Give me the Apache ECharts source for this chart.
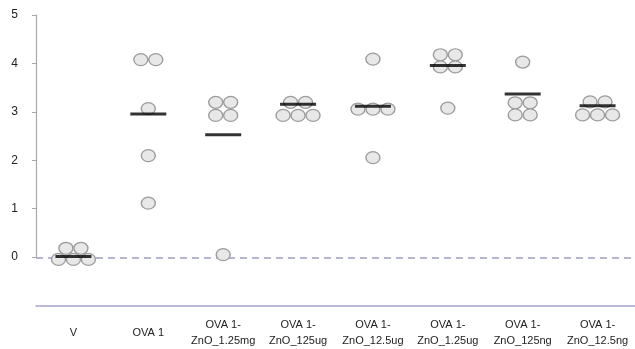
<!DOCTYPE html>
<html>
<head>
<meta charset="utf-8">
<script src="https://cdn.jsdelivr.net/npm/echarts@6/dist/echarts.min.js"></script>
<style>
  html, body { margin: 0; padding: 0; background: #fff; }
  #chart { width: 635px; height: 349px; }
</style>
</head>
<body>
<div id="chart"></div>
<script>
// Group names shown under the plot
const categories = [
  'V', 'OVA 1', 'OVA 1-\nZnO_1.25mg', 'OVA 1-\nZnO_125ug', 'OVA 1-\nZnO_12.5ug',
  'OVA 1-\nZnO_1.25ug', 'OVA 1-\nZnO_125ng', 'OVA 1-\nZnO_12.5ng'
];

// Individual scores per group (five animals each)
const groupV        = [-0.04, -0.04, -0.04, 0.19, 0.19];
const groupOva      = [4.08, 4.08, 3.07, 2.10, 1.12];
const groupZn125mg  = [3.20, 3.20, 2.93, 2.93, 0.06];
const groupZn125ug  = [3.20, 3.20, 2.93, 2.93, 2.93];
const groupZn12ug   = [4.09, 3.06, 3.06, 3.06, 2.06];
const groupZn1ug    = [4.18, 4.18, 3.93, 3.93, 3.08];
const groupZn125ng  = [4.03, 3.19, 3.19, 2.94, 2.94];
const groupZn12ng   = [3.21, 3.21, 2.94, 2.94, 2.94];

// Group means (horizontal bars)
const groupMeans = [0.02, 2.96, 2.53, 3.16, 3.12, 3.96, 3.37, 3.13];

// Y-axis tick values
const yTicks = [0, 1, 2, 3, 4, 5];

const groups = [groupV, groupOva, groupZn125mg, groupZn125ug,
                groupZn12ug, groupZn1ug, groupZn125ng, groupZn12ng];

// Spread equal values side by side (simple beeswarm) around the category centre
const SPREAD = 0.2;
const points = [];
groups.forEach((vals, gi) => {
  const rows = new Map();
  vals.forEach(v => rows.set(v, (rows.get(v) || 0) + 1));
  rows.forEach((n, v) => {
    for (let k = 0; k < n; k++) {
      points.push([gi + (k - (n - 1) / 2) * SPREAD, v]);
    }
  });
});

const chart = echarts.init(document.getElementById('chart'), null, { renderer: 'canvas' });

const font = 'Liberation Sans, Arial, sans-serif';

chart.setOption({
  animation: false,
  backgroundColor: '#fff',
  grid: [
    // scale shown on the left, covering 0..5
    { left: 36, right: 0, top: 15, height: 242, containLabel: false },
    // plotting area, extended down to -1 where the baseline sits
    { left: 36, right: 0, top: 15, bottom: 43, containLabel: false }
  ],
  xAxis: [
    { gridIndex: 0, type: 'value', show: false, min: 0, max: 1 },
    {
      gridIndex: 1, type: 'category', data: categories,
      axisLine: { show: true, onZero: false, lineStyle: { color: '#a4a4cc', width: 1.5 } },
      axisTick: { show: false },
      axisLabel: {
        interval: 0, fontFamily: font, fontSize: 11, color: '#222',
        lineHeight: 16, verticalAlign: 'middle', margin: 27
      }
    },
    { gridIndex: 1, type: 'value', show: false, min: -0.5, max: 7.5 }
  ],
  yAxis: [
    {
      gridIndex: 0, type: 'value', min: yTicks[0], max: yTicks[yTicks.length - 1], interval: 1,
      axisLine: { show: true, lineStyle: { color: '#a8a8a8', width: 1.2 } },
      axisTick: { show: true, length: 4, lineStyle: { color: '#a8a8a8' } },
      axisLabel: { fontFamily: font, fontSize: 12, color: '#222', margin: 18 },
      splitLine: { show: false }
    },
    { gridIndex: 1, type: 'value', min: -1, max: 5, show: false }
  ],
  series: [
    {
      type: 'scatter',
      xAxisIndex: 2, yAxisIndex: 1,
      data: points,
      symbol: 'circle',
      symbolSize: [14, 12],
      itemStyle: { color: '#e8e8e8', borderColor: '#9c9c9c', borderWidth: 1.3, opacity: 1 },
      z: 3,
      markLine: {
        silent: true,
        symbol: 'none',
        label: { show: false },
        lineStyle: { color: '#9d9dc6', width: 1.6, type: [7, 5] },
        data: [{ yAxis: 0 }],
        z: 1
      }
    },
    {
      type: 'scatter',
      xAxisIndex: 1, yAxisIndex: 1,
      data: groupMeans,
      symbol: 'rect',
      symbolSize: [36, 3],
      itemStyle: { color: '#000' },
      z: 4
    }
  ]
});
</script>
</body>
</html>
